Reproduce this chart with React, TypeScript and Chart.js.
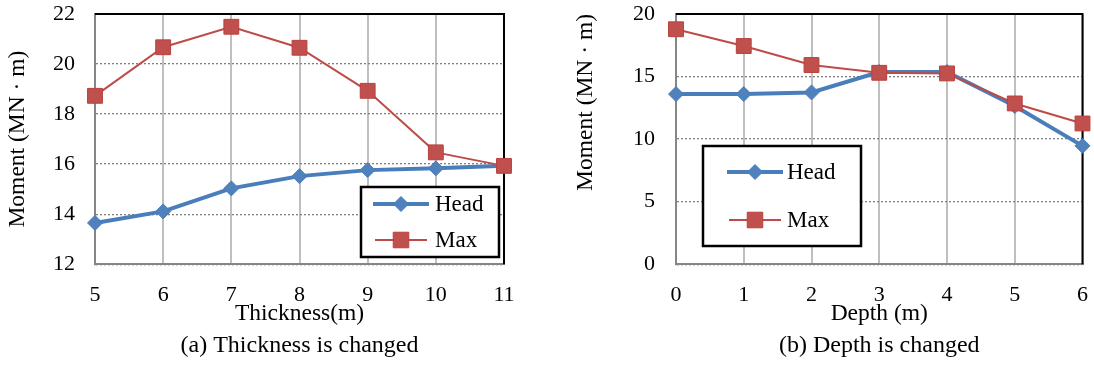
import React, { useEffect, useRef } from 'react';
import { Chart, registerables } from 'chart.js';
import { drawPoint } from 'chart.js/helpers';

Chart.register(...registerables);

const FONT = "'Liberation Serif', 'Times New Roman', serif";

// ---- Data ----
const thicknessLabels = ['5', '6', '7', '8', '9', '10', '11'];
const headByThickness = [13.65, 14.11, 15.03, 15.52, 15.76, 15.83, 15.93];
const maxByThickness = [18.73, 20.67, 21.49, 20.65, 18.93, 16.47, 15.93];

const depthLabels = ['0', '1', '2', '3', '4', '5', '6'];
const headByDepth = [13.6, 13.6, 13.73, 15.36, 15.36, 12.64, 9.46];
const maxByDepth = [18.78, 17.44, 15.92, 15.3, 15.25, 12.85, 11.25];

const seriesNames = ['Head', 'Max'];
const yTitle = 'Moment (MN · m)';

const HEAD_LINE = '#4a7ebb';
const HEAD_POINT = '#4f81bd';
const MAX_LINE = '#be4b48';
const MAX_POINT = '#c0504d';

const frameAndLegend = {
  id: 'frameAndLegend',
  beforeDatasetsDraw(chart: any) {
    const { ctx, chartArea } = chart;
    ctx.save();
    ctx.strokeStyle = '#000';
    ctx.lineWidth = 2;
    ctx.beginPath();
    ctx.moveTo(chartArea.left, chartArea.top);
    ctx.lineTo(chartArea.right, chartArea.top);
    ctx.lineTo(chartArea.right, chartArea.bottom);
    ctx.stroke();
    ctx.restore();
  },
  afterDatasetsDraw(chart: any, _args: any, opts: any) {
    const { ctx } = chart;
    const box = opts.box;
    if (!box) return;
    ctx.save();
    ctx.fillStyle = '#fff';
    ctx.fillRect(box.x, box.y, box.w, box.h);
    ctx.strokeStyle = '#000';
    ctx.lineWidth = 2.5;
    ctx.strokeRect(box.x, box.y, box.w, box.h);
    chart.data.datasets.forEach((ds: any, i: number) => {
      const row = opts.rows[i];
      ctx.strokeStyle = ds.borderColor;
      ctx.lineWidth = ds.borderWidth;
      ctx.lineCap = 'butt';
      ctx.beginPath();
      ctx.moveTo(row.x1, row.y);
      ctx.lineTo(row.x2, row.y);
      ctx.stroke();
      ctx.fillStyle = ds.pointBackgroundColor;
      ctx.strokeStyle = ds.pointBorderColor;
      ctx.lineWidth = ds.pointBorderWidth;
      drawPoint(ctx, { pointStyle: ds.pointStyle, radius: row.r, borderWidth: ds.pointBorderWidth, rotation: 0 } as any, (row.x1 + row.x2) / 2, row.y);
      ctx.fillStyle = '#000';
      ctx.font = `23px ${FONT}`;
      ctx.textBaseline = 'middle';
      ctx.textAlign = 'left';
      ctx.fillText(ds.label, row.tx, row.y + 1);
    });
    ctx.restore();
  },
};

type PanelProps = {
  labels: string[];
  head: number[];
  max: number[];
  yMin: number;
  yMax: number;
  yStep: number;
  xTitle: string;
  caption: string;
  yWidth: number;
  yTickPad: number;
  yTitlePad: number;
  yTitleAlign: 'start' | 'center' | 'end';
  padRight: number;
  legend: any;
};

function Panel(p: PanelProps) {
  const ref = useRef<HTMLCanvasElement>(null);
  useEffect(() => {
    if (!ref.current) return;
    const chart = new Chart(ref.current, {
      type: 'line',
      data: {
        labels: p.labels,
        datasets: [
          {
            label: seriesNames[0],
            data: p.head,
            borderColor: HEAD_LINE,
            borderWidth: 4,
            pointStyle: 'rectRot',
            pointRadius: 7.5,
            pointBackgroundColor: HEAD_POINT,
            pointBorderColor: HEAD_LINE,
            pointBorderWidth: 1,
            tension: 0,
            order: 1,
            clip: false as any,
          },
          {
            label: seriesNames[1],
            data: p.max,
            borderColor: MAX_LINE,
            borderWidth: 2,
            pointStyle: 'rect',
            pointRadius: 10.5,
            pointBackgroundColor: MAX_POINT,
            pointBorderColor: '#b9403d',
            pointBorderWidth: 1,
            tension: 0,
            order: 0,
            clip: false as any,
          },
        ],
      },
      options: {
        responsive: false,
        animation: false,
        events: [],
        layout: { padding: { top: 14, right: p.padRight, bottom: 0, left: 0 } },
        plugins: {
          legend: { display: false },
          tooltip: { enabled: false },
          title: {
            display: true,
            text: p.caption,
            position: 'bottom',
            fullSize: false,
            color: '#000',
            font: { family: FONT, size: 24, weight: 'normal' as any, lineHeight: 1.2 },
            padding: { top: 0, bottom: 5 },
          },
          frameAndLegend: p.legend,
        } as any,
        scales: {
          x: {
            type: 'category',
            offset: false,
            afterFit: (s: any) => {
              s.height = 67;
              s.paddingLeft = 0;
              s.paddingRight = 0;
            },
            grid: { color: '#bfbfbf', lineWidth: 2, drawTicks: false },
            border: { color: '#868686', width: 2 },
            ticks: { color: '#000', padding: 18, font: { family: FONT, size: 22 } },
            title: {
              display: true,
              text: p.xTitle,
              color: '#000',
              font: { family: FONT, size: 23.5, lineHeight: 1.2 },
              padding: { top: 0, bottom: 3 },
            },
          },
          y: {
            min: p.yMin,
            max: p.yMax,
            afterFit: (s: any) => {
              s.width = p.yWidth;
              s.paddingTop = 0;
              s.paddingBottom = 0;
            },
            grid: { color: '#7f7f7f', lineWidth: 1.3, drawTicks: false },
            border: { color: '#868686', width: 2, dash: [2, 2] },
            ticks: { stepSize: p.yStep, color: '#000', padding: p.yTickPad, font: { family: FONT, size: 22 } },
            title: {
              display: true,
              text: yTitle,
              align: p.yTitleAlign,
              color: '#000',
              font: { family: FONT, size: 23.5, lineHeight: 1.2 },
              padding: { top: p.yTitlePad, bottom: 0 },
            },
          },
        },
      } as any,
      plugins: [frameAndLegend],
    });
    return () => chart.destroy();
  }, []);
  return <canvas ref={ref} width={547} height={365} style={{ display: 'block', width: 547, height: 365 }} />;
}

export default function App() {
  return (
    <div style={{ position: 'absolute', left: 0, top: 0, width: 1094, height: 365, background: '#fff', display: 'flex' }}>
      <Panel
        labels={thicknessLabels}
        head={headByThickness}
        max={maxByThickness}
        yMin={12}
        yMax={22}
        yStep={2}
        xTitle="Thickness(m)"
        caption="(a) Thickness is changed"
        yWidth={95}
        yTickPad={20}
        yTitlePad={4}
        yTitleAlign="center"
        padRight={43}
        legend={{
          box: { x: 361, y: 187, w: 138, h: 70 },
          rows: [
            { y: 204, x1: 373, x2: 429, tx: 435, r: 7.5 },
            { y: 240, x1: 375, x2: 427, tx: 435, r: 11 },
          ],
        }}
      />
      <Panel
        labels={depthLabels}
        head={headByDepth}
        max={maxByDepth}
        yMin={0}
        yMax={20}
        yStep={5}
        xTitle="Depth (m)"
        caption="(b) Depth is changed"
        yWidth={129}
        yTickPad={21}
        yTitlePad={25}
        yTitleAlign="end"
        padRight={10}
        legend={{
          box: { x: 156, y: 146, w: 158, h: 100 },
          rows: [
            { y: 172, x1: 180, x2: 236, tx: 240, r: 7.5 },
            { y: 220, x1: 182, x2: 234, tx: 240, r: 11 },
          ],
        }}
      />
    </div>
  );
}
